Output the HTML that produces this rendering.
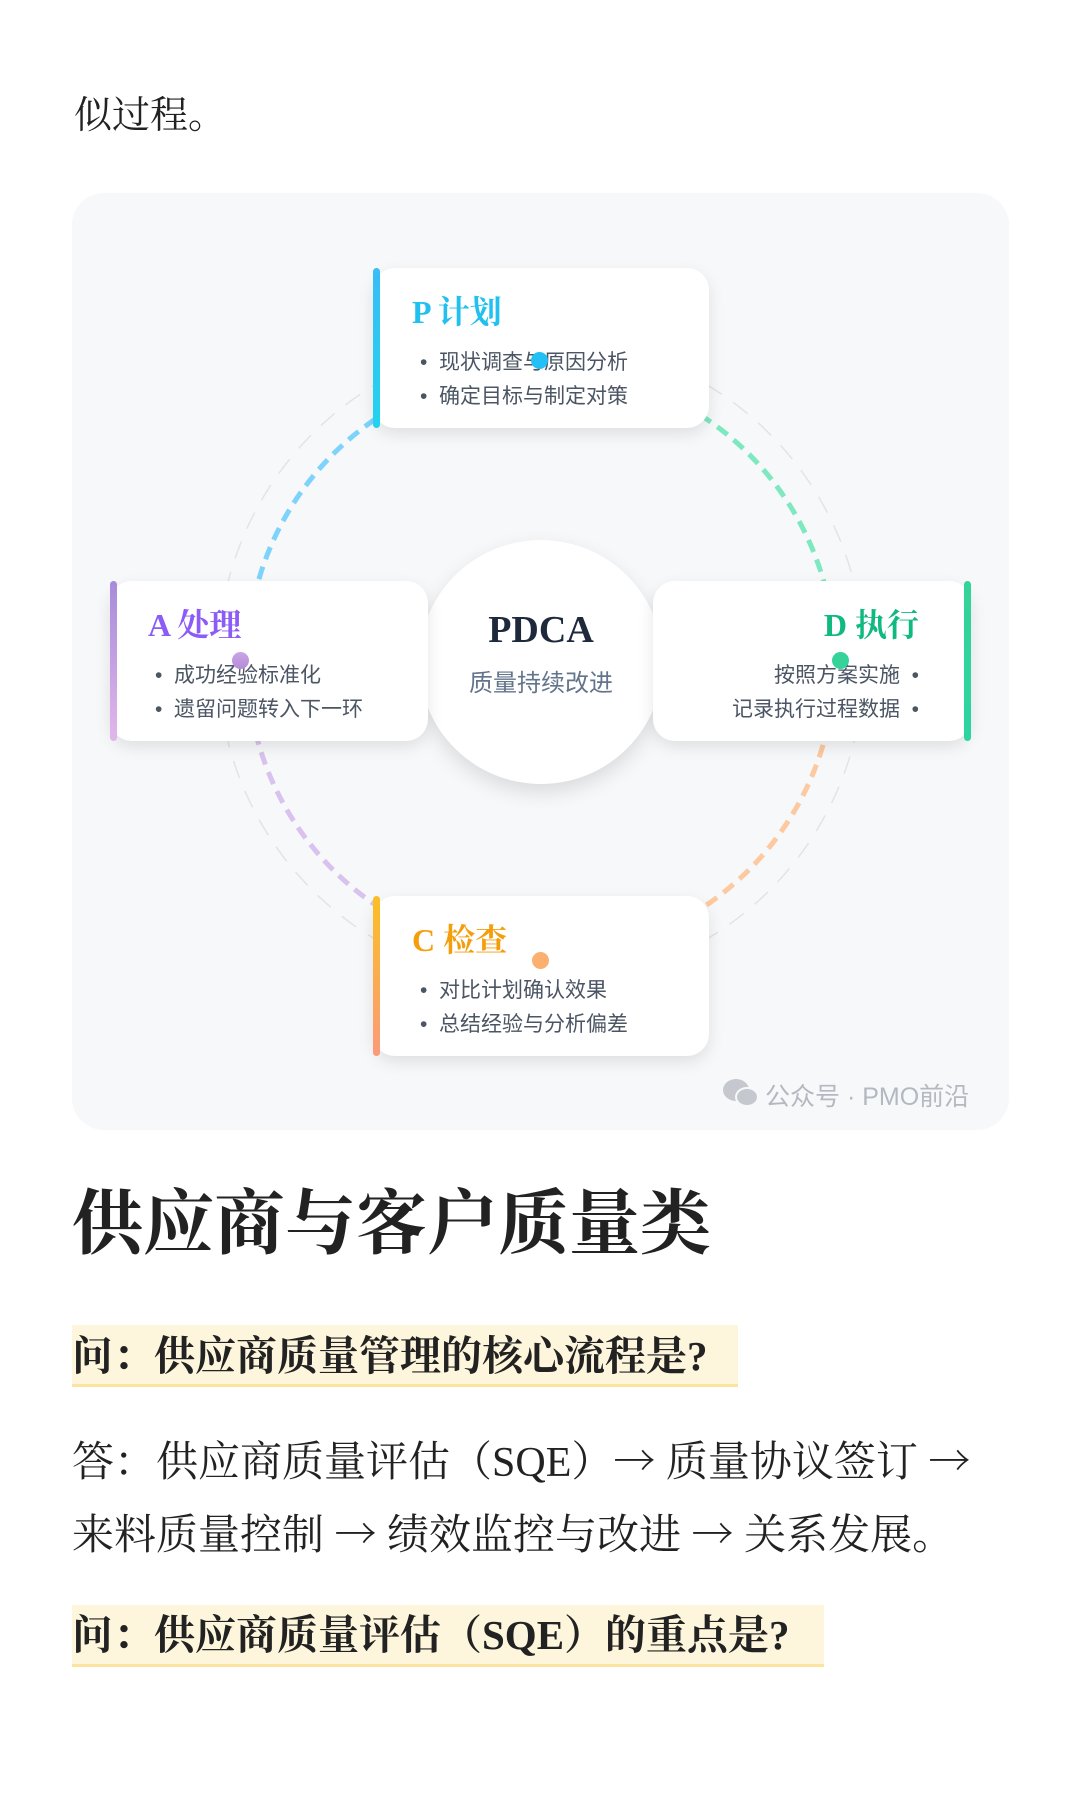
<!DOCTYPE html>
<html><head><meta charset="utf-8"><style>
*{margin:0;padding:0;box-sizing:border-box}
body{width:1080px;height:1800px;background:#fff;position:relative;overflow:hidden;font-family:"Liberation Serif","Noto Serif CJK SC",serif;color:#222}
.abs{position:absolute}
.top{left:74px;top:84px;font-size:38px;color:#222}
.box{left:72px;top:193px;width:937px;height:937px;background:#f7f8fa;border-radius:32px}
.card{position:absolute;background:#fff;border-radius:22px;box-shadow:0 6px 16px rgba(0,0,0,0.10);width:336px;height:160px}
.bar{position:absolute;top:0;width:7px;height:160px;border-radius:4px}
.tt{position:absolute;font-weight:bold;font-size:32px;white-space:nowrap;line-height:1}
.li{position:absolute;font-family:"Liberation Sans","Noto Sans CJK SC",sans-serif;font-size:21px;color:#4b5563;white-space:nowrap;line-height:1}
.dot{position:absolute;width:17px;height:17px;border-radius:50%}
.hl{background:#fdf6dc;border-bottom:3px solid #fbe3a0;left:72px;height:62px}
.q{font-weight:bold;font-size:41px;white-space:nowrap;line-height:1}
.ar{font-family:"Noto Serif CJK SC",serif}
</style></head><body>
<div class="abs top">似过程。</div>
<div class="abs box"></div>
<svg class="abs" style="left:0;top:0" width="1080" height="1300">
<circle cx="541" cy="662" r="323" fill="none" stroke="#e2e4e8" stroke-width="1.5" stroke-dasharray="18 14"/>
<path d="M247 662 A294 294 0 0 1 541 368" fill="none" stroke="#7dd3fc" stroke-width="5" stroke-dasharray="13 8"/>
<path d="M541 368 A294 294 0 0 1 835 662" fill="none" stroke="#7ee8c0" stroke-width="5" stroke-dasharray="13 8"/>
<path d="M835 662 A294 294 0 0 1 541 956" fill="none" stroke="#fcc9a0" stroke-width="5" stroke-dasharray="13 8"/>
<path d="M541 956 A294 294 0 0 1 247 662" fill="none" stroke="#d9c2ee" stroke-width="5" stroke-dasharray="13 8"/>
</svg>
<div class="abs" style="left:419px;top:540px;width:244px;height:244px;border-radius:50%;background:#fff;box-shadow:0 8px 20px rgba(0,0,0,0.12)"></div>
<div class="abs" style="left:419px;top:608px;width:244px;text-align:center;font-weight:bold;font-size:38px;color:#1e293b">PDCA</div>
<div class="abs" style="left:419px;top:663px;width:244px;text-align:center;font-family:'Liberation Sans','Noto Sans CJK SC',sans-serif;font-size:24px;color:#64748b">质量持续改进</div>

<div class="card" style="left:373px;top:268px"><div class="bar" style="left:0;background:linear-gradient(#38bdf8,#22d3ee)"></div>
<div class="tt" style="left:39px;top:28px;color:#22c0ee">P 计划</div>
<div class="li" style="left:47px;top:84px">•&nbsp; 现状调查与原因分析</div>
<div class="li" style="left:47px;top:118px">•&nbsp; 确定目标与制定对策</div></div>

<div class="card" style="left:110px;top:581px;width:318px"><div class="bar" style="left:0;background:linear-gradient(#a78bda,#e2b6ea)"></div>
<div class="tt" style="left:38px;top:28px;color:#8b5cf6">A 处理</div>
<div class="li" style="left:45px;top:84px">•&nbsp; 成功经验标准化</div>
<div class="li" style="left:45px;top:118px">•&nbsp; 遗留问题转入下一环</div></div>

<div class="card" style="left:653px;top:581px;width:318px"><div class="bar" style="right:0;background:linear-gradient(#34d399,#2dd4a0)"></div>
<div class="tt" style="right:52px;top:28px;color:#10b981">D 执行</div>
<div class="li" style="right:52px;top:84px">按照方案实施 &nbsp;•</div>
<div class="li" style="right:52px;top:118px">记录执行过程数据 &nbsp;•</div></div>

<div class="card" style="left:373px;top:896px"><div class="bar" style="left:0;background:linear-gradient(#fbbf24,#fb9a7a)"></div>
<div class="tt" style="left:39px;top:28px;color:#f59e0b">C 检查</div>
<div class="li" style="left:47px;top:84px">•&nbsp; 对比计划确认效果</div>
<div class="li" style="left:47px;top:118px">•&nbsp; 总结经验与分析偏差</div></div>

<div class="dot" style="left:531px;top:352px;background:#22c0f5"></div>
<div class="dot" style="left:232px;top:652px;background:linear-gradient(#c9a6e6,#b68ad8)"></div>
<div class="dot" style="left:832px;top:652px;background:#34d399"></div>
<div class="dot" style="left:532px;top:952px;background:#fbb070"></div>

<svg class="abs" style="left:722px;top:1078px" width="38" height="30"><ellipse cx="14" cy="12" rx="13" ry="11" fill="#c5c8ce"/><ellipse cx="25" cy="19" rx="11" ry="9" fill="#c5c8ce" stroke="#f7f8fa" stroke-width="2"/></svg>
<div class="abs" style="left:765px;top:1077px;font-family:'Liberation Sans','Noto Sans CJK SC',sans-serif;font-size:25px;color:#b4b8c0;white-space:nowrap">公众号 · PMO前沿</div>

<div class="abs" style="left:72px;top:1190px;font-weight:bold;font-size:71px;color:#222;white-space:nowrap;line-height:1">供应商与客户质量类</div>
<div class="abs hl" style="top:1325px;width:666px"></div>
<div class="abs q" style="left:72px;top:1336px">问：供应商质量管理的核心流程是?</div>
<div class="abs" style="left:72px;top:1438px;font-size:42px;white-space:nowrap;line-height:1">答：供应商质量评估（SQE）<span class="ar">→</span> 质量协议签订 <span class="ar">→</span></div>
<div class="abs" style="left:72px;top:1511px;font-size:42px;white-space:nowrap;line-height:1">来料质量控制 <span class="ar">→</span> 绩效监控与改进 <span class="ar">→</span> 关系发展。</div>
<div class="abs hl" style="top:1605px;width:752px"></div>
<div class="abs q" style="left:72px;top:1615px">问：供应商质量评估（SQE）的重点是?</div>
</body></html>
